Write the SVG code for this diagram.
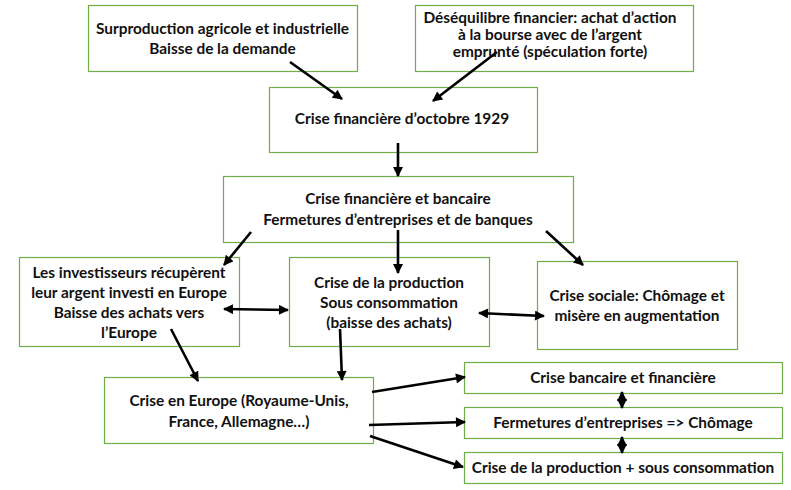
<svg xmlns="http://www.w3.org/2000/svg" width="791" height="490" viewBox="0 0 791 490">
<defs>
<marker id="ah" viewBox="0 0 10 10" refX="9" refY="5" markerUnits="userSpaceOnUse" markerWidth="12" markerHeight="10" orient="auto-start-reverse">
<path d="M0,0 L10,5 L0,10 Z" fill="#000"/>
</marker>
</defs>
<style>
.box{fill:#fff;stroke:#70AD47;stroke-width:1.2}
.t{font-family:Lato,"Open Sans","Liberation Sans",sans-serif;font-weight:bold;font-size:15.4px;fill:#111;text-anchor:middle;dominant-baseline:central}
.c{stroke:#000;stroke-width:2.6;fill:none}
.a{marker-end:url(#ah)}
.d{marker-start:url(#ah);marker-end:url(#ah)}
</style>
<rect width="791" height="490" fill="#fff"/>
<g id="n1"><rect class="box" x="88.5" y="5.5" width="269" height="66"/>
<text class="t" x="222.5" y="28">Surproduction agricole et industrielle</text>
<text class="t" x="222.5" y="48">Baisse de la demande</text></g>
<g id="n2"><rect class="box" x="415.5" y="5.5" width="278" height="66"/>
<text class="t" x="550" y="17">Déséquilibre financier: achat d’action</text>
<text class="t" x="550" y="34">à la bourse avec de l’argent</text>
<text class="t" x="550" y="51">emprunté (spéculation forte)</text></g>
<g id="n3"><rect class="box" x="269.5" y="87.5" width="268" height="65"/>
<text class="t" x="402" y="118">Crise financière d’octobre 1929</text></g>
<g id="n4"><rect class="box" x="223.5" y="176.5" width="350" height="66"/>
<text class="t" x="398" y="198">Crise financière et bancaire</text>
<text class="t" x="398" y="219">Fermetures d’entreprises et de banques</text></g>
<g id="n5"><rect class="box" x="19.5" y="257.5" width="220" height="89"/>
<text class="t" x="129" y="272">Les investisseurs récupèrent</text>
<text class="t" x="129" y="292">leur argent investi en Europe</text>
<text class="t" x="129" y="312">Baisse des achats vers</text>
<text class="t" x="129" y="332">l’Europe</text></g>
<g id="n6"><rect class="box" x="289.5" y="257.5" width="200" height="89"/>
<text class="t" x="389" y="282">Crise de la production</text>
<text class="t" x="389" y="302">Sous consommation</text>
<text class="t" x="389" y="322">(baisse des achats)</text></g>
<g id="n7"><rect class="box" x="537.5" y="261.5" width="200" height="88"/>
<text class="t" x="637" y="295">Crise sociale: Chômage et</text>
<text class="t" x="637" y="315">misère en augmentation</text></g>
<g id="n8"><rect class="box" x="104.5" y="377.5" width="269" height="66"/>
<text class="t" x="239" y="400">Crise en Europe (Royaume-Unis,</text>
<text class="t" x="239" y="421">France, Allemagne…)</text></g>
<g id="n9"><rect class="box" x="464.5" y="362.5" width="318" height="31"/>
<text class="t" x="623" y="377">Crise bancaire et financière</text></g>
<g id="n10"><rect class="box" x="464.5" y="407.5" width="318" height="31"/>
<text class="t" x="623" y="422">Fermetures d’entreprises =&gt; Chômage</text></g>
<g id="n11"><rect class="box" x="464.5" y="452.5" width="318" height="31"/>
<text class="t" x="623" y="467">Crise de la production + sous consommation</text></g>
<g id="connectors">
<line class="c a" x1="290" y1="62" x2="342" y2="99"/>
<line class="c a" x1="497" y1="52" x2="433" y2="101"/>
<line class="c a" x1="398" y1="143" x2="398" y2="176"/>
<line class="c a" x1="251" y1="232" x2="224" y2="265"/>
<line class="c a" x1="398" y1="230" x2="398" y2="273"/>
<line class="c a" x1="546" y1="231" x2="583" y2="265"/>
<line class="c d" x1="224" y1="309" x2="288" y2="310"/>
<line class="c d" x1="479" y1="313" x2="544" y2="316"/>
<line class="c a" x1="171" y1="329" x2="198" y2="381"/>
<line class="c a" x1="340" y1="329" x2="342" y2="380"/>
<line class="c a" x1="372" y1="392" x2="465" y2="377"/>
<line class="c a" x1="369" y1="425" x2="465" y2="422"/>
<line class="c a" x1="370" y1="436" x2="463" y2="467"/>
<line class="c d" x1="622" y1="392" x2="622" y2="408"/>
<line class="c d" x1="622" y1="437" x2="622" y2="453"/>
</g>
</svg>
